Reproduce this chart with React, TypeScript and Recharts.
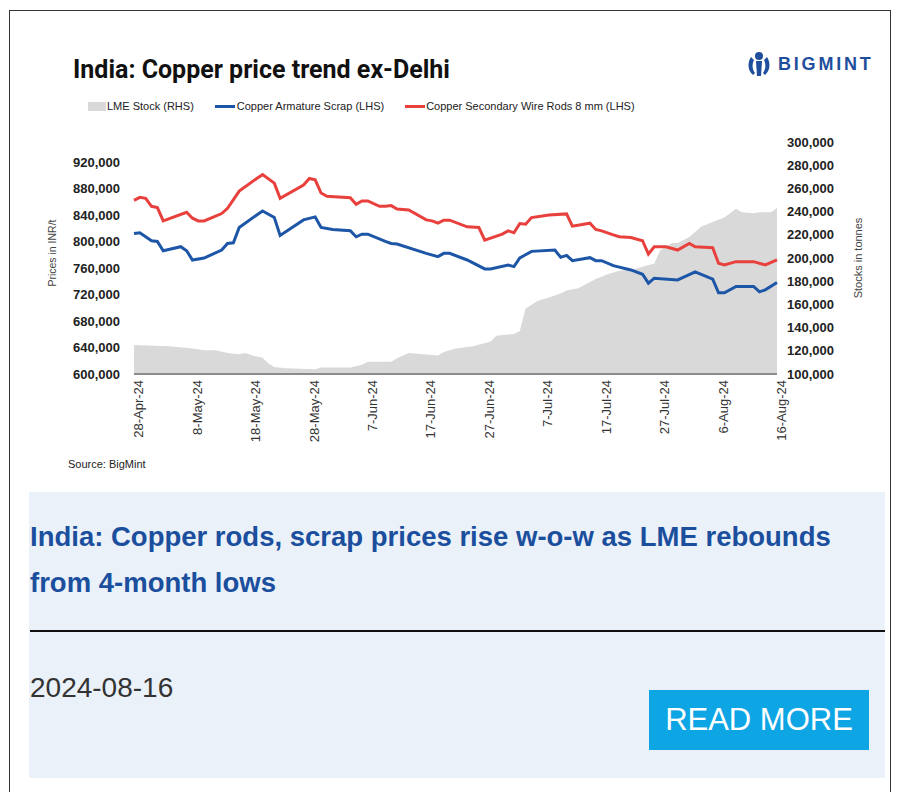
import { ComposedChart, Area, Line, XAxis, YAxis } from "recharts";

const stockDates = ["04-28", "05-04", "05-08", "05-10", "05-12", "05-14", "05-16", "05-17", "05-19", "05-20", "05-21", "05-22", "05-24", "05-29", "05-30", "06-04", "06-06", "06-07", "06-11", "06-12", "06-14", "06-19", "06-20", "06-22", "06-25", "06-27", "06-28", "06-29", "07-02", "07-03", "07-04", "07-06", "07-08", "07-10", "07-11", "07-13", "07-16", "07-18", "07-20", "07-23", "07-25", "07-26", "07-27", "07-29", "07-30", "08-01", "08-03", "08-05", "08-07", "08-09", "08-10", "08-12", "08-13", "08-15", "08-16"];
const stockValues = [125000, 124000, 122000, 120500, 120500, 118000, 117000, 118000, 115000, 114000, 109000, 106000, 105000, 104000, 105500, 105500, 108000, 110500, 110500, 113500, 118000, 116000, 119000, 122000, 124000, 126500, 128000, 133000, 134500, 137000, 156500, 163000, 166000, 169500, 172000, 174000, 182000, 186000, 189000, 191000, 194000, 195000, 206500, 213000, 213000, 218000, 227000, 231000, 235000, 242500, 239500, 238500, 239500, 239500, 243000];

const scrapDates = ["04-28", "04-29", "05-01", "05-02", "05-03", "05-06", "05-07", "05-08", "05-10", "05-13", "05-14", "05-15", "05-16", "05-19", "05-20", "05-22", "05-23", "05-27", "05-29", "05-30", "06-01", "06-04", "06-05", "06-06", "06-07", "06-10", "06-11", "06-12", "06-17", "06-19", "06-20", "06-21", "06-24", "06-27", "06-28", "07-01", "07-02", "07-03", "07-05", "07-09", "07-10", "07-11", "07-12", "07-15", "07-16", "07-17", "07-19", "07-22", "07-24", "07-25", "07-26", "07-30", "08-02", "08-05", "08-06", "08-07", "08-09", "08-12", "08-13", "08-14", "08-16"];
const scrapValues = [812000, 813000, 801000, 800000, 786000, 792000, 786000, 772000, 775000, 787000, 797000, 798000, 821000, 840000, 846000, 836000, 809000, 832500, 837000, 821000, 818000, 816000, 807000, 811000, 811000, 800000, 797000, 796000, 782000, 777000, 782000, 782000, 772000, 758500, 758500, 764500, 762000, 775000, 785000, 787000, 776000, 779000, 771000, 775500, 771000, 771000, 763500, 757000, 750500, 737000, 744500, 742000, 754000, 743000, 722500, 722500, 732000, 732000, 724000, 727000, 738000];

const rodDates = ["04-28", "04-29", "04-30", "05-01", "05-02", "05-03", "05-07", "05-08", "05-09", "05-10", "05-13", "05-14", "05-16", "05-19", "05-20", "05-22", "05-23", "05-27", "05-28", "05-29", "05-30", "05-31", "06-04", "06-05", "06-06", "06-07", "06-09", "06-10", "06-11", "06-12", "06-14", "06-17", "06-18", "06-19", "06-20", "06-21", "06-24", "06-26", "06-27", "06-30", "07-01", "07-02", "07-03", "07-04", "07-05", "07-08", "07-11", "07-12", "07-15", "07-16", "07-17", "07-19", "07-20", "07-22", "07-24", "07-25", "07-26", "07-28", "07-30", "08-01", "08-02", "08-05", "08-06", "08-07", "08-09", "08-12", "08-14", "08-16"];
const rodValues = [862000, 866500, 865000, 853000, 851000, 831000, 844000, 835000, 831000, 831000, 842000, 850000, 876000, 895000, 901000, 888000, 865000, 885000, 895000, 893000, 873000, 868000, 866000, 856000, 861000, 861000, 853000, 853000, 854000, 849000, 847500, 832500, 831000, 827500, 832000, 832000, 822000, 821000, 802000, 811000, 816000, 813000, 827000, 826000, 836000, 840000, 841500, 823000, 827500, 818000, 816000, 810000, 807000, 806000, 801000, 781000, 792000, 792000, 787000, 797000, 792000, 790500, 767000, 764500, 769500, 769500, 764500, 772000];

const xTickDates = ["04-28", "05-08", "05-18", "05-28", "06-07", "06-17", "06-27", "07-07", "07-17", "07-27", "08-06", "08-16"];
const leftTicks = [600000, 640000, 680000, 720000, 760000, 800000, 840000, 880000, 920000];
const rightTicks = [100000, 120000, 140000, 160000, 180000, 200000, 220000, 240000, 260000, 280000, 300000];

const MONTHS = ["Jan", "Feb", "Mar", "Apr", "May", "Jun", "Jul", "Aug", "Sep", "Oct", "Nov", "Dec"];
const START = Date.parse("2024-04-28");
const DAY = 86400000;
const toDay = (d: string) => Math.round((Date.parse("2024-" + d) - START) / DAY);
const dayLabel = (day: number) => {
  const dt = new Date(START + day * DAY);
  return `${dt.getUTCDate()}-${MONTHS[dt.getUTCMonth()]}-24`;
};

// merge the three series on a day index
const rows = new Map<number, any>();
const put = (dates: string[], values: number[], key: string) => {
  dates.forEach((d, i) => {
    const day = toDay(d);
    const row = rows.get(day) ?? { day };
    row[key] = values[i];
    rows.set(day, row);
  });
};
put(stockDates, stockValues, "stock");
put(scrapDates, scrapValues, "scrap");
put(rodDates, rodValues, "rods");
const chartData = [...rows.values()].sort((a, b) => a.day - b.day);

const BLUE = "#1d56a6";
const RED = "#e8403c";
const GREY = "#d9d9d9";
const SANS = "'Liberation Sans', Arial, sans-serif";

const fmt = (v: number) => v.toLocaleString("en-US");

function Logo() {
  return (
    <div style={{ position: "absolute", left: 747, top: 51, display: "flex", alignItems: "center" }}>
      <svg width="24" height="26" viewBox="0 0 24 26">
        <circle cx="12" cy="5" r="4" fill="#1f4f9c" />
        <path d="M4 6 C0 12 1 20 6 24 L8 22 C5 18 5 13 7 9 Z" fill="#1f4f9c" />
        <path d="M20 6 C24 12 23 20 18 24 L16 22 C19 18 19 13 17 9 Z" fill="#1f4f9c" />
        <path d="M9 10 L15 10 L14 25 L10 25 Z" fill="#1f4f9c" />
      </svg>
      <span style={{ marginLeft: 7, fontFamily: SANS, fontWeight: 700, fontSize: 18, letterSpacing: 2.8, color: "#1f4f9c" }}>
        BIGMINT
      </span>
    </div>
  );
}

function LegendRow() {
  const item = { display: "flex", alignItems: "center", marginRight: 21 } as const;
  return (
    <div style={{ position: "absolute", left: 88, top: 100, display: "flex", fontFamily: SANS, fontSize: 11, color: "#222" }}>
      <div style={item}>
        <span style={{ width: 18, height: 9, background: GREY, display: "inline-block", marginRight: 1 }} />
        LME Stock (RHS)
      </div>
      <div style={item}>
        <span style={{ width: 20, height: 3, background: BLUE, display: "inline-block", marginRight: 2 }} />
        Copper Armature Scrap (LHS)
      </div>
      <div style={item}>
        <span style={{ width: 20, height: 3, background: RED, display: "inline-block", marginRight: 1 }} />
        Copper Secondary Wire Rods 8 mm (LHS)
      </div>
    </div>
  );
}

export default function App() {
  return (
    <div style={{ position: "relative", width: 900, height: 792, background: "#fff", overflow: "hidden" }}>
      <style>{`body{margin:0}`}</style>
      <div style={{ position: "absolute", left: 9, top: 10, width: 880, height: 800, border: "1px solid #333" }} />

      <div style={{ position: "absolute", left: 73, top: 55, fontFamily: "Roboto, sans-serif", fontWeight: 700, fontSize: 25, color: "#111" }}>
        India: Copper price trend ex-Delhi
      </div>
      <Logo />
      <LegendRow />

      <div style={{ position: "absolute", left: 0, top: 0 }}>
        <ComposedChart width={900} height={470} data={chartData} margin={{ top: 142, right: 43, bottom: 26, left: 34 }}>
          <XAxis
            dataKey="day"
            type="number"
            domain={[0, 110]}
            ticks={xTickDates.map(toDay)}
            tickFormatter={dayLabel}
            interval={0}
            angle={-90}
            textAnchor="end"
            height={70}
            tickLine={false}
            tickMargin={0}
            axisLine={{ stroke: "#8c8c8c", strokeWidth: 2 }}
            tick={{ fontSize: 13, fill: "#333", fontFamily: SANS }}
          />
          <YAxis
            yAxisId="left"
            orientation="left"
            width={100}
            domain={[600000, 950000]}
            ticks={leftTicks}
            tickFormatter={fmt}
            axisLine={false}
            tickLine={false}
            tickMargin={8}
            tick={{ fontSize: 13, fill: "#222", fontWeight: 700, fontFamily: SANS }}
          />
          <YAxis
            yAxisId="right"
            orientation="right"
            width={80}
            domain={[100000, 300000]}
            ticks={rightTicks}
            tickFormatter={fmt}
            axisLine={false}
            tickLine={false}
            tickMargin={4}
            tick={{ fontSize: 13, fill: "#222", fontWeight: 700, fontFamily: SANS, textAnchor: "start" }}
          />
          <Area
            yAxisId="right"
            type="linear"
            dataKey="stock"
            name="LME Stock (RHS)"
            fill={GREY}
            fillOpacity={1}
            stroke="none"
            connectNulls
            dot={false}
            activeDot={false}
            isAnimationActive={false}
          />
          <Line
            yAxisId="left"
            type="linear"
            dataKey="scrap"
            name="Copper Armature Scrap (LHS)"
            stroke={BLUE}
            strokeWidth={3}
            connectNulls
            dot={false}
            activeDot={false}
            isAnimationActive={false}
          />
          <Line
            yAxisId="left"
            type="linear"
            dataKey="rods"
            name="Copper Secondary Wire Rods 8 mm (LHS)"
            stroke={RED}
            strokeWidth={3}
            connectNulls
            dot={false}
            activeDot={false}
            isAnimationActive={false}
          />
        </ComposedChart>
      </div>

      <div style={{ position: "absolute", left: 52, top: 253, transform: "translate(-50%, -50%) rotate(-90deg)", whiteSpace: "nowrap", fontFamily: SANS, fontSize: 10.5, color: "#444" }}>
        Prices in INR/t
      </div>
      <div style={{ position: "absolute", left: 858, top: 258, transform: "translate(-50%, -50%) rotate(-90deg)", whiteSpace: "nowrap", fontFamily: SANS, fontSize: 11, color: "#444" }}>
        Stocks in tonnes
      </div>
      <div style={{ position: "absolute", left: 68, top: 458, fontFamily: SANS, fontSize: 11, color: "#222" }}>
        Source: BigMint
      </div>

      <div style={{ position: "absolute", left: 29, top: 492, width: 856, height: 286, background: "#eaf1f9" }}>
        <div style={{ position: "absolute", left: 1, top: 22, width: 850, fontFamily: SANS, fontWeight: 700, fontSize: 27.5, lineHeight: "46px", color: "#1b4f9e" }}>
          India: Copper rods, scrap prices rise w-o-w as LME rebounds from 4-month lows
        </div>
        <div style={{ position: "absolute", left: 1, top: 138, width: 855, height: 2, background: "#111" }} />
        <div style={{ position: "absolute", left: 1, top: 180, fontFamily: SANS, fontSize: 28, color: "#333" }}>
          2024-08-16
        </div>
        <div style={{ position: "absolute", left: 620, top: 198, width: 220, height: 60, background: "#0ea5e4", color: "#fff", fontFamily: SANS, fontSize: 31, display: "flex", alignItems: "center", justifyContent: "center" }}>
          READ MORE
        </div>
      </div>
    </div>
  );
}
